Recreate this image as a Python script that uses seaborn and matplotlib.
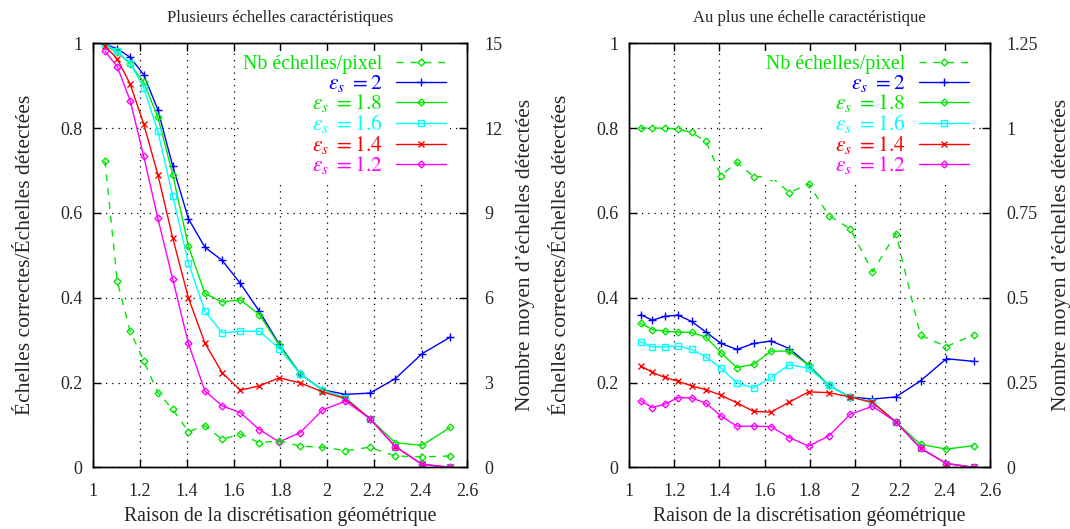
import numpy as np
import pandas as pd
import seaborn as sns
import matplotlib.pyplot as plt
from matplotlib.ticker import MultipleLocator, FormatStrFormatter

# Raison de la discrétisation (abscisses communes aux deux panneaux)
x_raison = [1.05, 1.1025, 1.1576, 1.2155, 1.2763, 1.3401, 1.4071, 1.4775, 1.5513, 1.6289,
            1.7103, 1.7959, 1.8856, 1.9799, 2.0789, 2.1829, 2.2920, 2.4066, 2.5270]

eps_levels = ["2", "1.8", "1.6", "1.4", "1.2"]

# Panneau gauche : plusieurs échelles caractéristiques
left_eps_2 = [0.998, 0.987, 0.967, 0.926, 0.843, 0.710, 0.586, 0.519, 0.488, 0.434,
              0.368, 0.290, 0.220, 0.183, 0.172, 0.175, 0.209, 0.268, 0.307]
left_eps_18 = [0.994, 0.980, 0.951, 0.908, 0.826, 0.690, 0.521, 0.410, 0.390, 0.395,
               0.360, 0.288, 0.220, 0.183, 0.164, 0.115, 0.058, 0.052, 0.094]
left_eps_16 = [0.998, 0.981, 0.953, 0.895, 0.792, 0.639, 0.482, 0.368, 0.317, 0.321,
               0.321, 0.280, 0.220, 0.182, 0.164, 0.115, 0.049, 0.007, 0.0]
left_eps_14 = [0.994, 0.963, 0.904, 0.810, 0.690, 0.540, 0.399, 0.293, 0.223, 0.182,
               0.192, 0.211, 0.199, 0.178, 0.162, 0.115, 0.049, 0.007, 0.0]
left_eps_12 = [0.981, 0.945, 0.865, 0.734, 0.587, 0.443, 0.292, 0.180, 0.145, 0.129,
               0.089, 0.060, 0.082, 0.135, 0.156, 0.115, 0.049, 0.007, 0.0]
left_nb = [10.85, 6.58, 4.82, 3.77, 2.64, 2.05, 1.26, 1.47, 0.99, 1.18,
           0.87, 0.94, 0.75, 0.71, 0.59, 0.71, 0.40, 0.37, 0.40]

# Panneau droit : au plus une échelle caractéristique
right_eps_2 = [0.360, 0.347, 0.356, 0.359, 0.344, 0.319, 0.292, 0.278, 0.292, 0.298,
               0.280, 0.241, 0.193, 0.166, 0.161, 0.166, 0.204, 0.256, 0.250]
right_eps_18 = [0.340, 0.325, 0.321, 0.319, 0.318, 0.307, 0.270, 0.235, 0.243, 0.274,
                0.274, 0.241, 0.193, 0.166, 0.154, 0.107, 0.054, 0.043, 0.051]
right_eps_16 = [0.296, 0.284, 0.284, 0.286, 0.278, 0.260, 0.234, 0.199, 0.187, 0.212,
                0.242, 0.234, 0.193, 0.166, 0.154, 0.107, 0.045, 0.009, 0.0]
right_eps_14 = [0.239, 0.224, 0.212, 0.203, 0.192, 0.183, 0.170, 0.152, 0.132, 0.130,
                0.154, 0.178, 0.176, 0.166, 0.153, 0.107, 0.045, 0.009, 0.0]
right_eps_12 = [0.157, 0.141, 0.149, 0.164, 0.164, 0.151, 0.121, 0.097, 0.097, 0.096,
                0.070, 0.050, 0.074, 0.125, 0.144, 0.107, 0.045, 0.009, 0.0]
right_nb = [1.0, 1.0, 1.0, 0.997, 0.987, 0.961, 0.860, 0.899, 0.857, 0.857,
            0.810, 0.835, 0.742, 0.703, 0.577, 0.689, 0.389, 0.356, 0.390]

sns.set_style("white")
plt.rcParams["font.family"] = ["Liberation Serif", "DejaVu Serif"]
plt.rcParams["mathtext.fontset"] = "stix"
plt.rcParams["axes.edgecolor"] = "black"
plt.rcParams["axes.linewidth"] = 1.0
plt.rcParams["xtick.direction"] = "in"
plt.rcParams["ytick.direction"] = "in"

colors = {"2": "#0000ff", "1.8": "#00e600", "1.6": "#00ffff", "1.4": "#ff0000", "1.2": "#ff00ff"}
markers = {"2": ("+", 6, True), "1.8": ("D", 3.5, False), "1.6": ("s", 5, False),
           "1.4": ("x", 5, True), "1.2": ("D", 3.5, False)}
nb_color = "#00e600"


def draw_panel(ax, series, nb, nb_max, nb_step, title):
    df = pd.DataFrame({"x": x_raison})
    for eps, vals in zip(eps_levels, series):
        df[eps] = vals
    df["nb"] = nb

    ax.grid(True, linestyle=(0, (1, 4)), color="black", linewidth=0.9)
    for eps in eps_levels:
        m, ms, filled = markers[eps]
        sns.lineplot(data=df, x="x", y=eps, ax=ax, color=colors[eps], linewidth=1.0,
                     marker=m, markersize=ms, markeredgewidth=1.0,
                     markerfacecolor=colors[eps] if filled else "none",
                     markeredgecolor=colors[eps], label=rf"$\varepsilon_s = {eps}$")
    if ax.get_legend() is not None:
        ax.get_legend().remove()
    handles = ax.get_lines()[-len(eps_levels):]

    ax.set_xlim(1, 2.6)
    ax.set_ylim(0, 1)
    ax.xaxis.set_major_locator(MultipleLocator(0.2))
    ax.yaxis.set_major_locator(MultipleLocator(0.2))
    ax.xaxis.set_major_formatter(FormatStrFormatter("%g"))
    ax.yaxis.set_major_formatter(FormatStrFormatter("%g"))
    ax.tick_params(axis="both", labelsize=13, length=6, width=1, color="black",
                   top=True, bottom=True, left=True, right=False)
    ax.tick_params(axis="y", pad=8)
    ax.tick_params(axis="x", pad=11)
    ax.set_xlabel("Raison de la discrétisation géométrique", fontsize=14.2, labelpad=5)
    ax.set_ylabel("Échelles correctes/Échelles détectées", fontsize=15.5, labelpad=18)
    ax.set_title(title, fontsize=12, pad=15)

    tw = ax.twinx()
    sns.lineplot(data=df, x="x", y="nb", ax=tw, color=nb_color, linewidth=1.0,
                 linestyle=(0, (5, 5)), marker="D", markersize=3.5, markeredgewidth=1.0,
                 markerfacecolor="none", markeredgecolor=nb_color, label="Nb échelles/pixel")
    if tw.get_legend() is not None:
        tw.get_legend().remove()
    nb_line = tw.get_lines()[-1]
    tw.set_ylim(0, nb_max)
    tw.yaxis.set_major_locator(MultipleLocator(nb_step))
    tw.yaxis.set_major_formatter(FormatStrFormatter("%g"))
    tw.tick_params(axis="y", labelsize=13, length=6, width=1, color="black", pad=12)
    tw.set_ylabel("Nombre moyen d\u2019échelles détectées", fontsize=15.5, labelpad=10)
    tw.set_xlabel("")
    for sp in tw.spines.values():
        sp.set_color("black")

    leg = tw.legend([nb_line] + list(handles),
                    ["Nb échelles/pixel"] + [rf"$\varepsilon_s\ = {e}$" for e in eps_levels],
                    loc="upper right", bbox_to_anchor=(0.975, 1.0), markerfirst=False,
                    frameon=True, fancybox=False, framealpha=1, facecolor="white",
                    edgecolor="none", fontsize=14.3, labelcolor="linecolor",
                    handlelength=2.5, handletextpad=0.7, labelspacing=-0.08,
                    borderpad=0.2, borderaxespad=0.4)
    for t in leg.get_texts()[1:]:
        t.set_fontsize(15.5)
    leg.set_zorder(10)


fig = plt.figure(figsize=(10.7, 5.29), dpi=100)
ax_left = fig.add_axes([0.0872, 0.1166, 0.3495, 0.8016])
ax_right = fig.add_axes([0.5881, 0.1166, 0.3371, 0.8016])

draw_panel(ax_left, [left_eps_2, left_eps_18, left_eps_16, left_eps_14, left_eps_12],
           left_nb, 15, 3, "Plusieurs échelles caractéristiques")
draw_panel(ax_right, [right_eps_2, right_eps_18, right_eps_16, right_eps_14, right_eps_12],
           right_nb, 1.25, 0.25, "Au plus une échelle caractéristique")

fig.savefig("out.png", dpi=100)
